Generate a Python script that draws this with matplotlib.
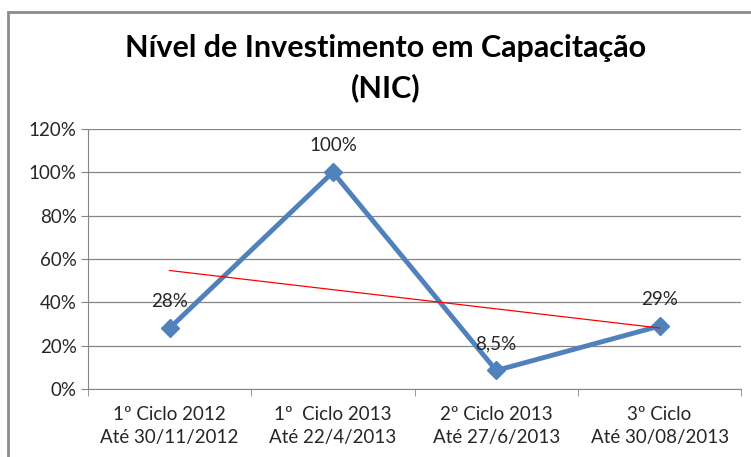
import numpy as np
import matplotlib.pyplot as plt
from matplotlib.patches import Rectangle
from matplotlib.ticker import MultipleLocator, PercentFormatter

plt.rcParams['font.family'] = ['Lato', 'DejaVu Sans']

# data
categories = ['1º Ciclo 2012\nAté 30/11/2012', '1º  Ciclo 2013\nAté 22/4/2013',
              '2º Ciclo 2013\nAté 27/6/2013', '3º Ciclo\nAté 30/08/2013']
nic = [28, 100, 8.5, 29]
labels = ['28%', '100%', '8,5%', '29%']

x = np.arange(1, len(nic) + 1)

fig = plt.figure(figsize=(7.51, 4.57), dpi=100)
ax = fig.add_axes([0.117, 0.149, 0.870, 0.569])

# outer chart border (cut off on right / bottom like the original)
fig.patches.append(Rectangle((8 / 751, -0.1), 1.2, 1 - 12 / 457 + 0.1,
                             transform=fig.transFigure, fill=False,
                             edgecolor='#8c8c8c', lw=2))

ax.plot(x, nic, color='#4F81BD', lw=3.5, marker='D', markersize=9.5, zorder=3)

# linear trend line
k, b = np.polyfit(x, nic, 1)
ax.plot(x, k * x + b, color='#FF0000', lw=0.9, zorder=4)

for xi, yi, lab in zip(x, nic, labels):
    ax.annotate(lab, (xi, yi), xytext=(0, 13), textcoords='offset points',
                ha='center', va='bottom', fontsize=13.5, color='#262626')

ax.set_xlim(0.5, 4.5)
ax.set_ylim(0, 120)
ax.yaxis.set_major_locator(MultipleLocator(20))
ax.yaxis.set_major_formatter(PercentFormatter(decimals=0))
ax.set_xticks(x)
ax.set_xticklabels(categories, fontsize=13.5, color='#262626', linespacing=1.45)
ax.set_xticks(np.arange(0.5, 4.6, 1), minor=True)
ax.tick_params(axis='x', which='major', length=0, pad=12)
ax.tick_params(axis='x', which='minor', length=5, color='#868686')
ax.tick_params(axis='y', length=5, color='#868686', labelsize=13.5,
               labelcolor='#262626', pad=3)

ax.grid(axis='y', color='#868686', lw=0.9)
ax.set_axisbelow(True)
for s in ['top', 'right']:
    ax.spines[s].set_visible(False)
for s in ['left', 'bottom']:
    ax.spines[s].set_color('#868686')

fig.text(0.513, 0.851, 'Nível de Investimento em Capacitação\n(NIC)',
         ha='center', va='center', fontsize=22, fontweight='bold',
         linespacing=1.45)

fig.savefig('out.png', dpi=100)
